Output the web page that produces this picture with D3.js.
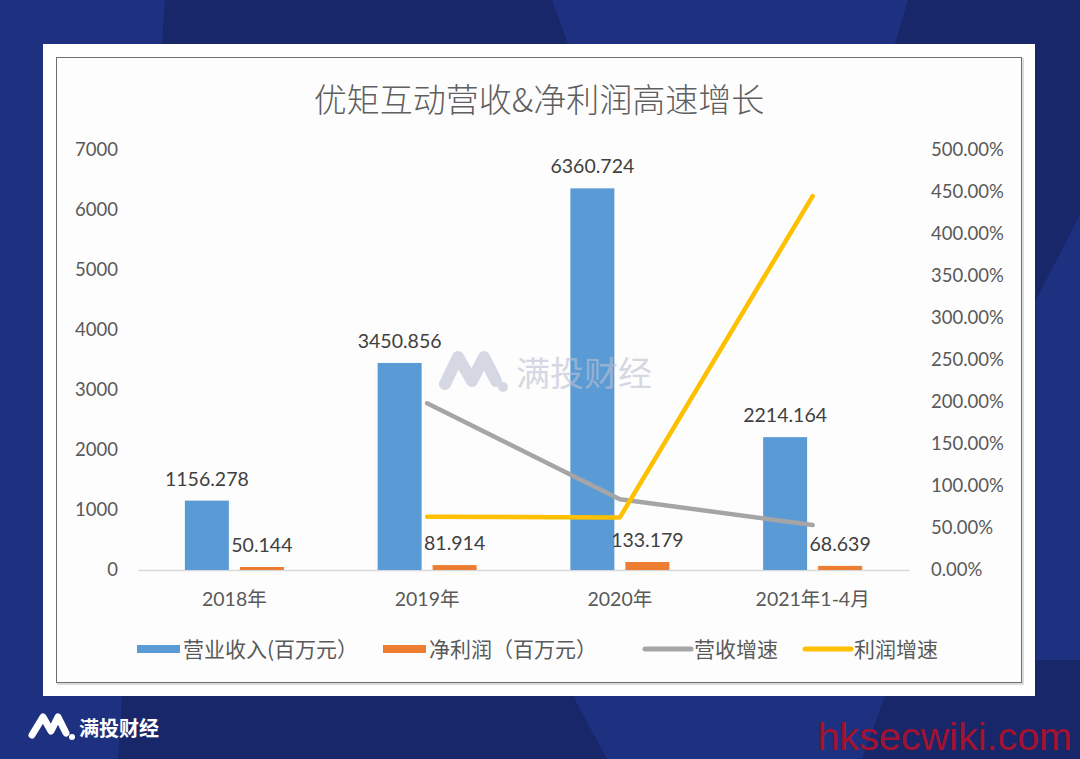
<!DOCTYPE html>
<html>
<head>
<meta charset="utf-8">
<script src="https://cdn.jsdelivr.net/npm/d3@7/dist/d3.min.js"></script>
<style>
  html, body { margin: 0; padding: 0; background: #18266a; }
  svg { display: block; }
</style>
</head>
<body>
<svg id="chart" width="1080" height="759"></svg>
<script>
// chart values
var categories = ["2018年", "2019年", "2020年", "2021年1-4月"];
var revenue = [1156.278, 3450.856, 6360.724, 2214.164];      // 营业收入(百万元)
var profit = [50.144, 81.914, 133.179, 68.639];              // 净利润(百万元)
var revenueGrowth = [null, 198.4, 84.3, 53.5];               // 营收增速 %
var profitGrowth = [null, 63.4, 62.6, 445];                  // 利润增速 %
var leftTicks = [0, 1000, 2000, 3000, 4000, 5000, 6000, 7000];
var rightTicks = [0, 50, 100, 150, 200, 250, 300, 350, 400, 450, 500];
var legendNames = ["营业收入(百万元）", "净利润（百万元）", "营收增速", "利润增速"];

var blue = "#5b9bd5", orange = "#ed7d31", gray = "#a5a5a5", yellow = "#ffc000";
var textColor = "#595959";
var numFont = "Lato, 'Noto Sans CJK SC', sans-serif";
var cjkFont = "'Noto Sans CJK SC', sans-serif";

var svg = d3.select("#chart");

// ---- background: navy with some diagonal lighter panes
svg.append("rect").attr("width", 1080).attr("height", 759).attr("fill", "#18266a");
var panes = [
  [[0, 0], [165, 0], [118, 759], [0, 759]],
  [[552, 0], [908, 0], [860, 160], [610, 160]],
  [[573, 696], [885, 696], [862, 759], [607, 759]],
  [[1036, 300], [1080, 215], [1080, 660], [1036, 660]]
];
svg.selectAll(".pane").data(panes).enter()
  .append("polygon")
  .attr("class", "pane")
  .attr("points", function (d) { return d.map(function (p) { return p.join(","); }).join(" "); })
  .attr("fill", "#1e3180");

// ---- white card and the inner chart frame
svg.append("rect").attr("x", 43).attr("y", 44).attr("width", 992).attr("height", 652).attr("fill", "#ffffff");
svg.append("rect").attr("x", 58).attr("y", 59).attr("width", 965).attr("height", 625)
  .attr("fill", "none").attr("stroke", "#d0d0d0").attr("stroke-width", 1.5);
svg.append("rect").attr("x", 56.5).attr("y", 57.5).attr("width", 965).attr("height", 625)
  .attr("fill", "#fdfdfd").attr("stroke", "#6f6f6f").attr("stroke-width", 1);

// ---- scales
var x = d3.scaleBand().domain(categories).range([138, 909]);
var inner = d3.scaleBand().domain(["rev", "profit"])
  .range([x.bandwidth() / 2 - 49.5, x.bandwidth() / 2 + 49.5])
  .paddingInner(0.2).paddingOuter(0);
var y = d3.scaleLinear().domain([0, 7000]).range([570, 150]);
var y2 = d3.scaleLinear().domain([0, 500]).range([570, 150]);

// ---- title
svg.append("text")
  .attr("x", 539).attr("y", 112)
  .attr("text-anchor", "middle")
  .attr("font-family", cjkFont).attr("font-weight", 300)
  .attr("font-size", 33).attr("fill", "#5f5f5f")
  .text("优矩互动营收&净利润高速增长");

// ---- axes
var gx = svg.append("g").attr("transform", "translate(0,570)")
  .call(d3.axisBottom(x).tickSize(0).tickPadding(22));
gx.select(".domain").attr("stroke", "#d9d9d9").attr("stroke-width", 1.5);
gx.selectAll("text").attr("font-family", numFont).attr("font-size", 19.5).attr("fill", textColor);

var gl = svg.append("g").attr("transform", "translate(138,0)")
  .call(d3.axisLeft(y).tickValues(leftTicks).tickSize(0).tickPadding(20).tickFormat(d3.format("d")));
gl.select(".domain").remove();
gl.selectAll("text").attr("font-family", numFont).attr("font-size", 18.5).attr("fill", textColor);

var gr = svg.append("g").attr("transform", "translate(909,0)")
  .call(d3.axisRight(y2).tickValues(rightTicks).tickSize(0).tickPadding(22)
    .tickFormat(function (d) { return d.toFixed(2) + "%"; }));
gr.select(".domain").remove();
gr.selectAll("text").attr("font-family", numFont).attr("font-size", 18.5).attr("fill", textColor);

// ---- bars
var groups = svg.selectAll(".cat").data(categories).enter()
  .append("g").attr("class", "cat")
  .attr("transform", function (d) { return "translate(" + x(d) + ",0)"; });

groups.append("rect")
  .attr("x", inner("rev")).attr("width", inner.bandwidth())
  .attr("y", function (d, i) { return y(revenue[i]); })
  .attr("height", function (d, i) { return y(0) - y(revenue[i]); })
  .attr("fill", blue);

groups.append("rect")
  .attr("x", inner("profit")).attr("width", inner.bandwidth())
  .attr("y", function (d, i) { return y(profit[i]); })
  .attr("height", function (d, i) { return y(0) - y(profit[i]); })
  .attr("fill", orange);

// ---- watermark, half see-through over the bars
var wm = svg.append("g").attr("opacity", 0.6).attr("fill", "#bcc0d2");
wm.append("path")
  .attr("d", "M445,384 L458,357 L472,381 L484,357 L496,381")
  .attr("fill", "none").attr("stroke", "#bcc0d2").attr("stroke-width", 12)
  .attr("stroke-linejoin", "round").attr("stroke-linecap", "round");
wm.append("circle").attr("cx", 503).attr("cy", 387).attr("r", 5);
wm.append("text").attr("x", 516).attr("y", 386)
  .attr("font-family", cjkFont).attr("font-size", 34)
  .text("满投财经");

// ---- growth lines
var cx = function (d, i) { return x(categories[i]) + x.bandwidth() / 2; };
var line = d3.line()
  .defined(function (d) { return d !== null; })
  .x(cx)
  .y(function (d) { return y2(d); });

svg.append("path").datum(revenueGrowth)
  .attr("d", line).attr("fill", "none").attr("stroke", gray)
  .attr("stroke-width", 4.5).attr("stroke-linecap", "round").attr("stroke-linejoin", "round");
svg.append("path").datum(profitGrowth)
  .attr("d", line).attr("fill", "none").attr("stroke", yellow)
  .attr("stroke-width", 4.5).attr("stroke-linecap", "round").attr("stroke-linejoin", "round");

// ---- data labels
groups.append("text")
  .attr("x", inner("rev") + inner.bandwidth() / 2)
  .attr("y", function (d, i) { return y(revenue[i]) - 15; })
  .attr("text-anchor", "middle")
  .attr("font-family", numFont).attr("font-size", 19.5).attr("fill", "#404040")
  .text(function (d, i) { return revenue[i].toFixed(3); });

groups.append("text")
  .attr("x", inner("profit") + inner.bandwidth() / 2)
  .attr("y", function (d, i) { return y(profit[i]) - 15; })
  .attr("text-anchor", "middle")
  .attr("font-family", numFont).attr("font-size", 19.5).attr("fill", "#404040")
  .text(function (d, i) { return profit[i].toFixed(3); });

// ---- legend
var legendX = [137, 383, 643, 803];
var legendKind = ["bar", "bar", "line", "line"];
var legendColor = [blue, orange, gray, yellow];
var lg = svg.selectAll(".leg").data(legendNames).enter()
  .append("g").attr("class", "leg")
  .attr("transform", function (d, i) { return "translate(" + legendX[i] + ",649)"; });
lg.each(function (d, i) {
  var g = d3.select(this);
  if (legendKind[i] === "bar") {
    g.append("rect").attr("x", 0).attr("y", -4).attr("width", 43).attr("height", 8).attr("fill", legendColor[i]);
  } else {
    g.append("line").attr("x1", 2).attr("x2", 48).attr("y1", 0).attr("y2", 0)
      .attr("stroke", legendColor[i]).attr("stroke-width", 5).attr("stroke-linecap", "round");
  }
  g.append("text")
    .attr("x", legendKind[i] === "bar" ? 46 : 51).attr("y", 7.5)
    .attr("font-family", cjkFont).attr("font-size", 21).attr("fill", textColor)
    .text(d);
});

// ---- footer brand and site mark
svg.append("path")
  .attr("d", "M32,735 L43,717 L51,731 L58,717 L66,733")
  .attr("fill", "none").attr("stroke", "#ffffff").attr("stroke-width", 7)
  .attr("stroke-linejoin", "round").attr("stroke-linecap", "round");
svg.append("circle").attr("cx", 72).attr("cy", 737).attr("r", 3).attr("fill", "#ffffff");
svg.append("text").attr("x", 79).attr("y", 736)
  .attr("font-family", cjkFont).attr("font-weight", 700).attr("font-size", 20).attr("fill", "#ffffff")
  .text("满投财经");

svg.append("text").attr("x", 1072).attr("y", 750)
  .attr("text-anchor", "end")
  .attr("font-family", "'Liberation Sans', Arial, sans-serif").attr("font-size", 39.5)
  .attr("fill", "#a3122f")
  .text("hksecwiki.com");
</script>
</body>
</html>
